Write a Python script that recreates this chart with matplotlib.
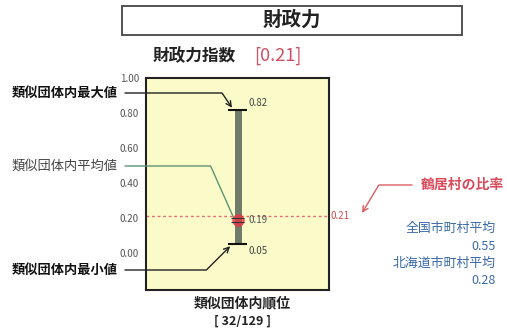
import matplotlib
matplotlib.use("Agg")
import matplotlib.pyplot as plt
from matplotlib.patches import Rectangle

plt.rcParams['font.family'] = ['Noto Sans CJK JP', 'DejaVu Sans']

# data
index_value = 0.21
group_max = 0.82
group_min = 0.05
group_mean = 0.19
village_value = 0.21
national_avg = 0.55
hokkaido_avg = 0.28
rank = 32
rank_total = 129
yticks = [0.0, 0.2, 0.4, 0.6, 0.8, 1.0]

W, H = 507, 331
fig = plt.figure(figsize=(W / 100, H / 100), dpi=100, facecolor='w')

def fx(px):
    return px / W

def fy(py):
    return 1 - py / H

# title box
fig.patches.append(Rectangle((fx(122), fy(35)), fx(340), 29 / H, transform=fig.transFigure,
                             fill=False, edgecolor='#444444', lw=1.3))
fig.text(fx(292), fy(20), '財政力', ha='center', va='center', fontsize=14, fontweight='bold', color='#222222')
fig.text(fx(194), fy(56), '財政力指数', ha='center', va='center', fontsize=12, fontweight='bold', color='#222222')
fig.text(fx(278), fy(56), '[%.2f]' % index_value, ha='center', va='center', fontsize=13, color='#d04f60')

ax = fig.add_axes([fx(146), fy(290), fx(183), 212 / H])
ax.set_facecolor('#fbfbca')
ax.set_xlim(0, 1)
ax.set_ylim(-0.21, 1.0)
ax.set_xticks([])
ax.set_yticks(yticks)
ax.set_yticklabels(['%.2f' % t for t in yticks], fontsize=7, color='#555555')
ax.tick_params(axis='y', length=0, pad=5)
for s in ax.spines.values():
    s.set_linewidth(1.5)
    s.set_color('#222222')

x0 = 0.5
ax.vlines(x0, group_min, group_max, color='#6f7a68', lw=5, zorder=2)
ax.hlines([group_min, group_max], x0 - 0.05, x0 + 0.05, color='#111111', lw=1.5, zorder=3)
ax.axhline(village_value, xmin=0, xmax=1, color='#e07070', ls=(0, (2, 2)), lw=1, zorder=1)
ax.plot([x0], [group_mean], 'o', color='#ee3344', ms=8, alpha=0.75, zorder=4)
ax.hlines([group_mean + 0.01, group_mean - 0.01], x0 - 0.035, x0 + 0.035, color='#333333', lw=0.8, zorder=5)

ax.text(x0 + 0.06, group_max + 0.04, '%.2f' % group_max, fontsize=7, color='#444444', va='center')
ax.text(x0 + 0.06, group_mean, '%.2f' % group_mean, fontsize=7, color='#555555', va='center')
ax.text(x0 + 0.06, group_min - 0.04, '%.2f' % group_min, fontsize=7, color='#444444', va='center')
ax.text(1.01, village_value, '%.2f' % village_value, fontsize=7, color='#d05050', va='center',
        transform=ax.get_yaxis_transform())

# left annotations
ax.annotate('類似団体内最大値', xy=(x0 - 0.03, group_max + 0.01), xycoords='data',
            xytext=(65, H - 93), textcoords='figure pixels', ha='center', va='center',
            fontsize=9.5, fontweight='bold', color='#111111',
            arrowprops=dict(arrowstyle='->', color='#222222', lw=1, relpos=(1, 0.5), shrinkA=3, shrinkB=0,
                            connectionstyle='angle,angleA=0,angleB=-56,rad=0'))
ax.annotate('類似団体内平均値', xy=(x0 - 0.02, group_mean + 0.01), xycoords='data',
            xytext=(65, H - 166), textcoords='figure pixels', ha='center', va='center',
            fontsize=9.5, color='#444444',
            arrowprops=dict(arrowstyle='-', color='#5f9473', lw=1, relpos=(1, 0.5), shrinkA=3, shrinkB=0,
                            connectionstyle='angle,angleA=0,angleB=-66,rad=0'))
ax.annotate('類似団体内最小値', xy=(x0 - 0.04, group_min - 0.01), xycoords='data',
            xytext=(65, H - 270), textcoords='figure pixels', ha='center', va='center',
            fontsize=9.5, fontweight='bold', color='#111111',
            arrowprops=dict(arrowstyle='->', color='#222222', lw=1, relpos=(1, 0.5), shrinkA=3, shrinkB=0,
                            connectionstyle='angle,angleA=0,angleB=45,rad=0'))

# right annotation
ax.annotate('鶴居村の比率', xy=(362, H - 213), xycoords='figure pixels',
            xytext=(462, H - 185), textcoords='figure pixels', ha='center', va='center',
            fontsize=10, fontweight='bold', color='#d94a5a',
            arrowprops=dict(arrowstyle='->', color='#d96060', lw=1, relpos=(0, 0.5), shrinkA=4, shrinkB=0,
                            connectionstyle='angle,angleA=0,angleB=59,rad=0'))

blue = '#3a6aa8'
fig.text(fx(496), fy(228), '全国市町村平均', ha='right', va='center', fontsize=9.3, style='italic', color=blue)
fig.text(fx(496), fy(246), '%.2f' % national_avg, ha='right', va='center', fontsize=9, style='italic', color=blue)
fig.text(fx(496), fy(263), '北海道市町村平均', ha='right', va='center', fontsize=9.3, style='italic', color=blue)
fig.text(fx(496), fy(281), '%.2f' % hokkaido_avg, ha='right', va='center', fontsize=9, style='italic', color=blue)

fig.text(fx(242), fy(303), '類似団体内順位', ha='center', va='center', fontsize=10, fontweight='bold', color='#222222')
fig.text(fx(242), fy(321), '[ %d/%d ]' % (rank, rank_total), ha='center', va='center', fontsize=9,
         fontweight='bold', color='#222222')

fig.savefig('out.png', dpi=100)
